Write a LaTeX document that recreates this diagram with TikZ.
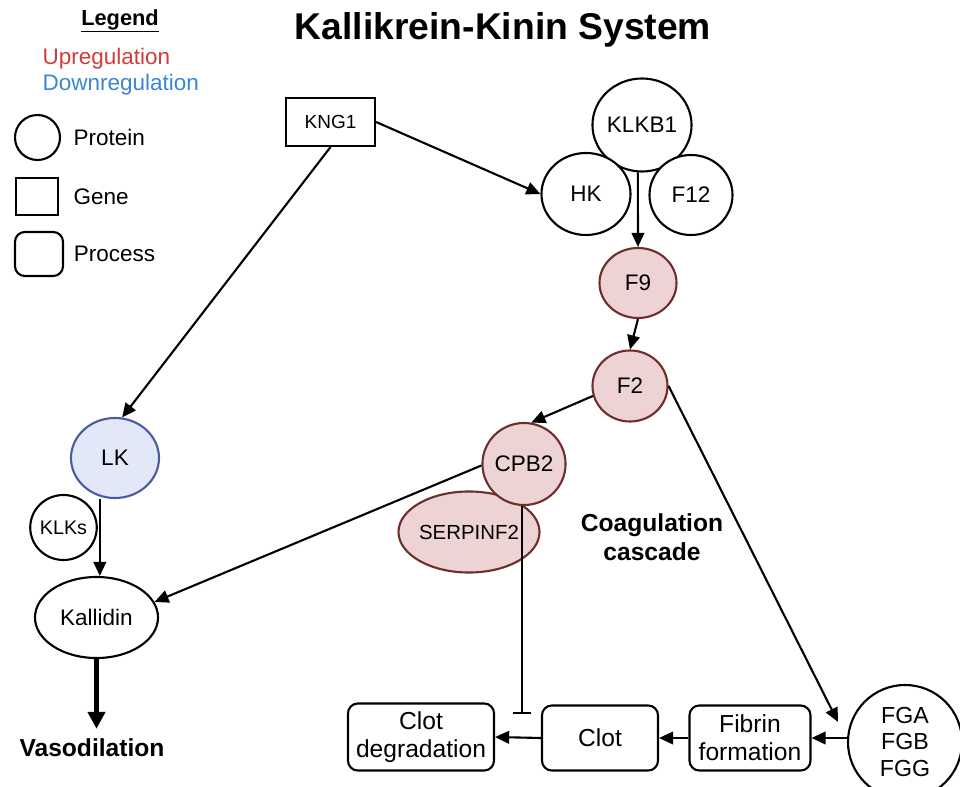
\documentclass[tikz,border=0pt]{standalone}
\usepackage{fontspec}
\setmainfont{Liberation Sans}
\usetikzlibrary{shapes.geometric, arrows.meta, positioning}
\definecolor{upfill}{HTML}{EDD3D3}
\definecolor{updraw}{HTML}{6E2E2A}
\definecolor{downfill}{HTML}{E3E8F8}
\definecolor{downdraw}{HTML}{4A5C9E}
\definecolor{uptext}{HTML}{D03C3C}
\definecolor{downtext}{HTML}{3A86D2}

\begin{document}
\begin{tikzpicture}[x=0.025cm, y=-0.025cm, inner sep=1pt,
    font=\fontsize{16}{19}\selectfont,
    protein/.style={ellipse, draw, line width=1.5pt, fill=white, inner sep=0pt},
    gene/.style={rectangle, draw, line width=1.5pt, fill=white},
    process/.style={rectangle, draw, line width=1.5pt, rounded corners=7pt, align=center, fill=white, font=\fontsize{17.5}{20}\selectfont},
    up/.style={protein, fill=upfill, draw=updraw},
    down/.style={protein, fill=downfill, draw=downdraw},
    heading/.style={font=\bfseries\fontsize{17.5}{21}\selectfont, align=center},
    arrow/.style={line width=1.5pt, -{Triangle[length=10pt, width=9pt]}},
    bigarrow/.style={line width=3.5pt, -{Triangle[length=12pt, width=12pt]}},
    inhibit/.style={line width=1.5pt, -{Bar[width=13pt]}}]

    \useasboundingbox (0,0) rectangle (960,787);

    % legend
    \node (legend) [font=\bfseries\fontsize{15.5}{18}\selectfont] at (120,21) {\underline{Legend}};
    \node (uplbl) [anchor=west, text=uptext] at (41,59) {Upregulation};
    \node (downlbl) [anchor=west, text=downtext] at (41,85) {Downregulation};
    \node (legprot) [protein, minimum width=1.125cm, minimum height=1.125cm] at (37.5,137.5) {};
    \node (leggene) [gene, minimum width=1.05cm, minimum height=0.925cm] at (37,196.5) {};
    \node (legproc) [process, minimum width=1.2cm, minimum height=1.1cm] at (39,254) {};
    \node (protlbl) [right=0.27cm of legprot] {Protein};
    \node (genelbl) [right=0.32cm of leggene] {Gene};
    \node (proclbl) [right=0.2cm of legproc] {Process};

    % title
    \node (title) [font=\bfseries\fontsize{26.5}{30}\selectfont] at (503,30) {Kallikrein-Kinin System};

    % kinin branch
    \node (kng1) [gene, minimum width=2.225cm, minimum height=1.2cm, font=\fontsize{13.5}{16}\selectfont] at (330.5,122) {KNG1};
    \node (lk) [down, minimum width=2.2cm, minimum height=2cm] at (115,458) {LK};
    \node (klks) [protein, minimum width=1.6cm, minimum height=1.625cm, font=\fontsize{14}{16}\selectfont] at (63.5,527.5) {KLKs};
    \node (kallidin) [protein, minimum width=3.075cm, minimum height=2.025cm] at (96.5,617.5) {Kallidin};
    \node (vaso) [heading] at (92,748) {Vasodilation};

    % contact activation
    \node (klkb1) [protein, minimum width=2.475cm, minimum height=2.325cm] at (642,125) {KLKB1};
    \node (hk) [protein, minimum width=2.225cm, minimum height=2.05cm] at (586,194) {HK};
    \node (f12) [protein, minimum width=2.075cm, minimum height=2cm] at (691,195) {F12};
    \node (f9) [up, minimum width=1.925cm, minimum height=1.75cm] at (638,283) {F9};
    \node (f2) [up, minimum width=1.875cm, minimum height=1.775cm] at (630,386) {F2};
    \node (serpinf2) [up, minimum width=2.85cm, minimum height=2.025cm, font=\fontsize{14.5}{17}\selectfont] at (469,532) {SERPINF2};
    \node (cpb2) [up, minimum width=2.05cm, minimum height=2.05cm] at (524,464) {CPB2};
    \node (coag) [heading] at (652,537) {Coagulation\\cascade};

    % clot formation
    \node (fga) [protein, minimum width=2.85cm, minimum height=2.85cm, align=center, font=\fontsize{16.5}{18.5}\selectfont] at (905,742) {FGA\\FGB\\FGG};
    \node (fibrin) [process, minimum width=3.025cm, minimum height=1.625cm] at (750,738) {Fibrin\\formation};
    \node (clot) [process, minimum width=2.9cm, minimum height=1.625cm] at (600,738) {Clot};
    \node (clotdeg) [process, minimum width=3.65cm, minimum height=1.675cm] at (421,737) {Clot\\degradation};

    \coordinate (fibjoin) at (838,722);
    \coordinate (inhend) at (522,714);

    \draw [arrow] (kng1.east) -- (hk.west);
    \draw [arrow] (kng1.south) -- (lk.80);
    \draw [arrow] (lk.south -| klks.east) ++(2,0) coordinate (lkdown) -- (lkdown |- kallidin.north);
    \draw [bigarrow, shorten >=6pt] (kallidin.south) -- (kallidin.south |- vaso.north);
    \draw [arrow] (klkb1.265) -- (f9.north);
    \draw [arrow] (f9.south) -- (f2.north);
    \draw [arrow] (f2.195) -- (cpb2.80);
    \draw [arrow] (cpb2.182) -- (kallidin.15);
    \draw [arrow] (f2.east) -- (fibjoin);
    \draw [inhibit] (cpb2.south -| inhend) -- (inhend);
    \draw [arrow] (fga.west |- fibrin.east) -- (fibrin.east);
    \draw [arrow] (fibrin.west) -- (clot.east);
    \draw [arrow] (clot.west) -- (clotdeg.east);
\end{tikzpicture}
\end{document}
